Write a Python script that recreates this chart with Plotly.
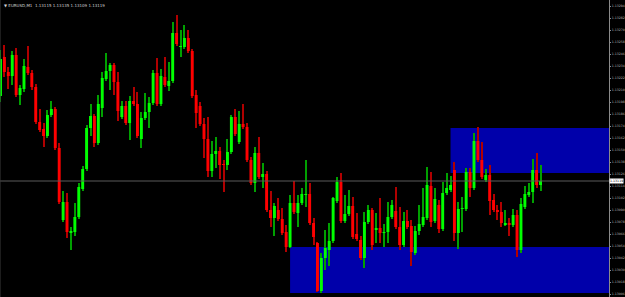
import plotly.graph_objects as go

# ---- candle data (EURUSD M1) ----
open_ = [1.13204,1.13243,1.13228,1.13224,1.13245,1.13205,1.13211,1.13233,1.13227,1.13213,
         1.13178,1.13171,1.13164,1.13185,1.13191,1.13152,1.13080,1.13098,1.13067,1.13068,
         1.13083,1.13111,1.13131,1.13172,1.13184,1.13157,1.13192,1.13221,1.13229,1.13235,
         1.13218,1.13183,1.13194,1.13177,1.13199,1.13196,1.13161,1.13182,1.13188,1.13197,
         1.13227,1.13196,1.13223,1.13214,1.13219,1.13267,1.13253,1.13253,1.13262,1.13249,
         1.13205,1.13194,1.13176,1.13161,1.13129,1.13146,1.13149,1.13136,1.13135,1.13148,
         1.13183,1.13158,1.13176,1.13173,1.13140,1.13117,1.13147,1.13123,1.13126,1.13090,
         1.13082,1.13090,1.13081,1.13068,1.13053,1.13097,1.13087,1.13097,1.13105,1.13106,
         1.13077,1.13057,1.13009,1.13042,1.13050,1.13059,1.13099,1.13118,1.13079,1.13086,
         1.13094,1.13066,1.13060,1.13042,1.13078,1.13090,1.13070,1.13072,1.13067,1.13068,
         1.13083,1.13089,1.13073,1.13055,1.13079,1.13074,1.13047,1.13069,1.13075,1.13082,
         1.13114,1.13079,1.13095,1.13071,1.13107,1.13110,1.13130,1.13067,1.13091,1.13091,
         1.13128,1.13112,1.13159,1.13140,1.13120,1.13125,1.13100,1.13090,1.13088,1.13075,
         1.13077,1.13075,1.13085,1.13050,1.13093,1.13105,1.13108,1.13130,1.13115]
high = [1.13250,1.13255,1.13233,1.13249,1.13252,1.13215,1.13241,1.13254,1.13230,1.13216,
        1.13191,1.13177,1.13190,1.13199,1.13193,1.13157,1.13109,1.13107,1.13073,1.13097,
        1.13117,1.13134,1.13175,1.13196,1.13186,1.13205,1.13228,1.13247,1.13237,1.13237,
        1.13228,1.13199,1.13199,1.13204,1.13213,1.13208,1.13188,1.13207,1.13203,1.13230,
        1.13242,1.13231,1.13243,1.13238,1.13278,1.13285,1.13270,1.13275,1.13270,1.13251,
        1.13210,1.13198,1.13182,1.13183,1.13159,1.13163,1.13153,1.13140,1.13161,1.13185,
        1.13191,1.13189,1.13196,1.13177,1.13143,1.13153,1.13163,1.13137,1.13129,1.13109,
        1.13097,1.13102,1.13092,1.13075,1.13105,1.13119,1.13105,1.13112,1.13140,1.13117,
        1.13082,1.13058,1.13047,1.13070,1.13077,1.13103,1.13123,1.13127,1.13105,1.13110,
        1.13103,1.13087,1.13064,1.13088,1.13095,1.13092,1.13087,1.13102,1.13076,1.13098,
        1.13100,1.13113,1.13093,1.13088,1.13090,1.13080,1.13074,1.13095,1.13112,1.13133,
        1.13128,1.13112,1.13100,1.13118,1.13127,1.13124,1.13138,1.13098,1.13103,1.13132,
        1.13132,1.13167,1.13173,1.13158,1.13131,1.13135,1.13106,1.13095,1.13098,1.13090,
        1.13082,1.13091,1.13090,1.13102,1.13114,1.13117,1.13141,1.13147,1.13135]
low = [1.13198,1.13223,1.13211,1.13215,1.13203,1.13195,1.13208,1.13225,1.13210,1.13176,
       1.13168,1.13153,1.13162,1.13183,1.13150,1.13096,1.13078,1.13062,1.13050,1.13064,
       1.13081,1.13109,1.13129,1.13164,1.13153,1.13155,1.13183,1.13219,1.13210,1.13205,
       1.13179,1.13181,1.13175,1.13160,1.13194,1.13162,1.13152,1.13180,1.13172,1.13195,
       1.13194,1.13194,1.13213,1.13209,1.13217,1.13254,1.13243,1.13251,1.13247,1.13202,
       1.13172,1.13174,1.13142,1.13123,1.13123,1.13132,1.13121,1.13108,1.13130,1.13146,
       1.13164,1.13156,1.13171,1.13138,1.13115,1.13108,1.13121,1.13112,1.13088,1.13073,
       1.13064,1.13079,1.13065,1.13048,1.13052,1.13086,1.13073,1.13095,1.13093,1.13075,
       1.13055,1.13008,1.13007,1.13030,1.13034,1.13057,1.13097,1.13077,1.13077,1.13084,
       1.13061,1.13059,1.13040,1.13032,1.13076,1.13050,1.13057,1.13057,1.13053,1.13057,
       1.13081,1.13071,1.13050,1.13053,1.13071,1.13034,1.13045,1.13065,1.13073,1.13080,
       1.13073,1.13077,1.13067,1.13069,1.13105,1.13108,1.13059,1.13051,1.13068,1.13089,
       1.13103,1.13110,1.13138,1.13121,1.13118,1.13085,1.13088,1.13080,1.13073,1.13074,
       1.13064,1.13073,1.13043,1.13047,1.13091,1.13103,1.13097,1.13112,1.13109]
close = [1.13241,1.13228,1.13224,1.13245,1.13205,1.13212,1.13234,1.13227,1.13213,1.13178,
         1.13170,1.13164,1.13185,1.13191,1.13152,1.13098,1.13098,1.13068,1.13069,1.13083,
         1.13113,1.13131,1.13172,1.13184,1.13157,1.13196,1.13222,1.13229,1.13235,1.13218,
         1.13189,1.13194,1.13177,1.13199,1.13196,1.13164,1.13182,1.13188,1.13197,1.13227,
         1.13196,1.13224,1.13215,1.13219,1.13267,1.13256,1.13254,1.13262,1.13249,1.13204,
         1.13187,1.13176,1.13161,1.13129,1.13146,1.13149,1.13135,1.13135,1.13148,1.13183,
         1.13166,1.13176,1.13173,1.13140,1.13117,1.13147,1.13123,1.13126,1.13090,1.13082,
         1.13094,1.13081,1.13067,1.13053,1.13097,1.13088,1.13097,1.13106,1.13106,1.13077,
         1.13063,1.13009,1.13042,1.13052,1.13059,1.13102,1.13118,1.13079,1.13086,1.13094,
         1.13063,1.13061,1.13042,1.13078,1.13090,1.13055,1.13072,1.13067,1.13068,1.13083,
         1.13095,1.13073,1.13055,1.13079,1.13073,1.13048,1.13069,1.13076,1.13083,1.13115,
         1.13078,1.13101,1.13071,1.13107,1.13112,1.13115,1.13067,1.13091,1.13092,1.13128,
         1.13112,1.13159,1.13140,1.13123,1.13125,1.13099,1.13090,1.13088,1.13077,1.13077,
         1.13075,1.13085,1.13050,1.13096,1.13106,1.13108,1.13130,1.13115,1.13119]

# supply / demand zones: starting candle index, top price, bottom price
zone_start = [115, 74]
zone_top = [1.13172, 1.13053]
zone_bottom = [1.13127, 1.13007]

symbol_header = "▼ EURUSD,M1  1.13115 1.13135 1.13109 1.13119"

n = len(close)
idx = list(range(n))
bull = [c >= o for o, c in zip(open_, close)]

BODY_UP, BODY_DN = "#00ff00", "#ff0000"
WICK_UP, WICK_DN = "#00a000", "#b00000"

x_lo, x_hi = -0.128, 155.5
y_lo, y_hi = 1.13003, 1.13300

fig = go.Figure()
fig.add_trace(go.Bar(
    x=idx, base=low, y=[h - l for h, l in zip(high, low)], width=0.26,
    marker=dict(color=[WICK_UP if b else WICK_DN for b in bull], line=dict(width=0)),
    hoverinfo="skip"))
fig.add_trace(go.Bar(
    x=idx, base=[min(o, c) for o, c in zip(open_, close)],
    y=[max(abs(c - o), 0.00001) for o, c in zip(open_, close)], width=0.75,
    marker=dict(color=[BODY_UP if b else BODY_DN for b in bull], line=dict(width=0)),
    hoverinfo="skip"))

shapes = []
for s, t, b in zip(zone_start, zone_top, zone_bottom):
    shapes.append(dict(type="rect", xref="x", yref="y", x0=s, x1=x_hi, y0=b, y1=t,
                       fillcolor="#0000aa", line=dict(width=0), layer="below"))
shapes.append(dict(type="line", xref="paper", yref="y", x0=0, x1=1, y0=close[-1], y1=close[-1],
                   line=dict(color="#5a5a5a", width=1)))
shapes.append(dict(type="line", xref="paper", yref="paper", x0=0, x1=0, y0=0, y1=1,
                   line=dict(color="#3a3a3a", width=1)))

fig.update_layout(
    width=625, height=297,
    margin=dict(l=0, r=16, t=0, b=0),
    paper_bgcolor="#000000", plot_bgcolor="#000000",
    barmode="overlay", showlegend=False, hovermode=False,
    shapes=shapes,
    xaxis=dict(range=[x_lo, x_hi], visible=False, fixedrange=True),
    yaxis=dict(range=[y_lo, y_hi], side="right", tick0=1.13006, dtick=0.00012,
               tickformat=".5f", showgrid=False, zeroline=False,
               showline=True, linecolor="#8a8a8a", linewidth=1,
               ticks="outside", ticklen=1, tickcolor="#8a8a8a",
               tickfont=dict(family="DejaVu Sans", size=3.2, color="#b4b4b4"),
               automargin=False, fixedrange=True),
    annotations=[
        dict(text=symbol_header, xref="paper", yref="paper", x=0.004, y=0.995,
             xanchor="left", yanchor="top", showarrow=False,
             font=dict(family="DejaVu Sans", size=4, color="#d0d0d0")),
        dict(text=f"{close[-1]:.5f}", xref="paper", yref="y", x=1, y=close[-1],
             xanchor="left", yanchor="middle", showarrow=False, xshift=0,
             bgcolor="#ffffff", borderpad=0,
             font=dict(family="DejaVu Sans", size=3.2, color="#000000")),
    ],
)

fig.write_html("out.html")
